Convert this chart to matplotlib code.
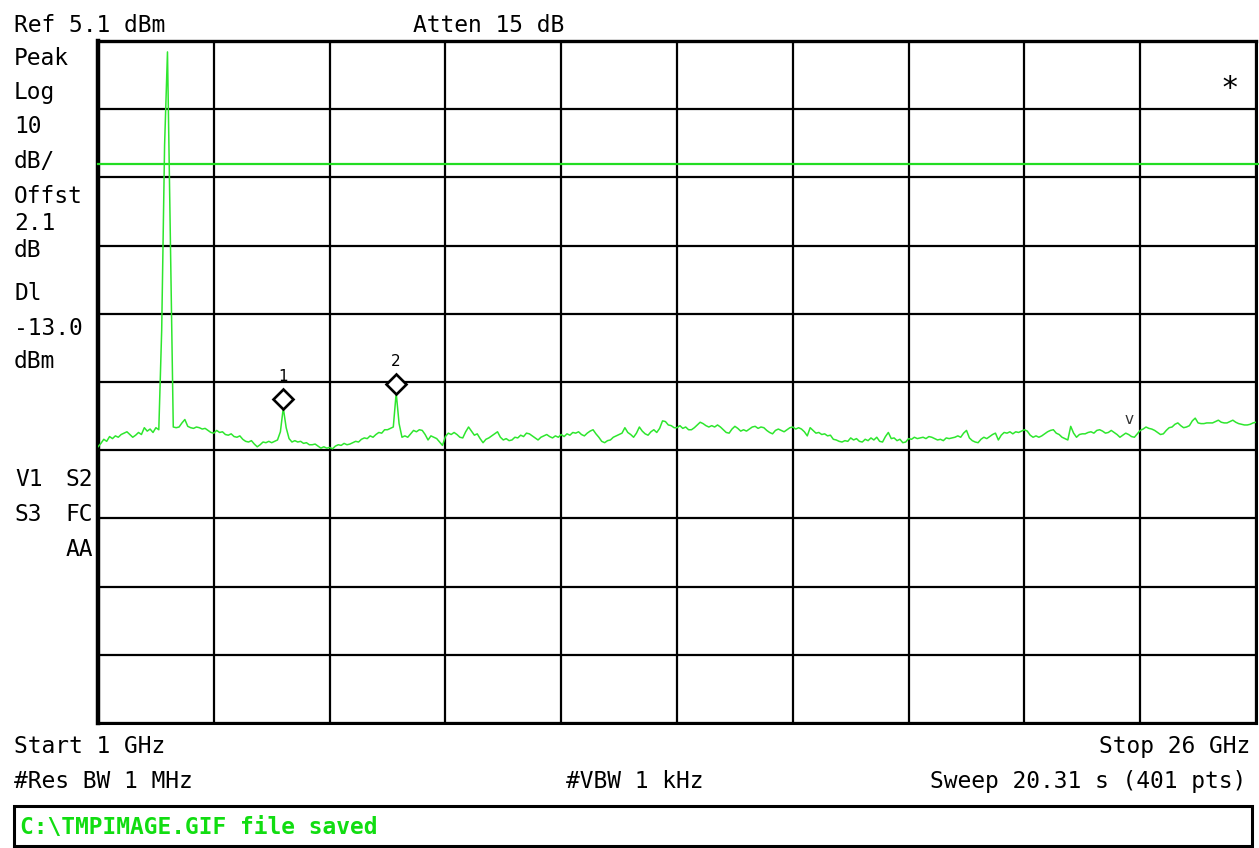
import numpy as np
import matplotlib
matplotlib.use("Agg")
import matplotlib.pyplot as plt
from matplotlib.patches import Rectangle
from matplotlib.transforms import offset_copy

W, H = 1259, 848

# analyzer settings
START_GHZ = 1.0
STOP_GHZ = 26.0
N_PTS = 401
REF_DBM = 5.1
DB_PER_DIV = 10
N_DIV = 10
DISPLAY_LINE_DBM = -13.0

# trace, dBm per sweep point
trace_dbm = [
    -54.4, -53.9, -53.3, -53.6, -52.9, -53.2, -52.8, -53.0, -52.6, -52.4, -52.2, -52.6, -53.0, -52.7, -52.3, -52.6, -51.6, -52.1, -51.8, -52.3,
    -51.6, -51.9, -37.3, -10.2, 3.5, -23.9, -51.5, -51.6, -51.5, -50.9, -50.4, -51.4, -51.6, -51.7, -51.5, -51.6, -51.8, -51.7, -52.0, -52.3,
    -52.4, -52.0, -52.3, -52.2, -52.6, -52.7, -52.5, -52.9, -53.0, -52.8, -53.3, -53.6, -53.7, -53.5, -54.0, -54.4, -54.1, -53.7, -53.8, -53.6,
    -53.8, -53.6, -53.4, -52.2, -48.7, -51.6, -53.2, -53.7, -53.5, -53.7, -53.6, -53.9, -53.8, -54.1, -54.1, -54.0, -54.3, -54.6, -54.4, -54.6,
    -54.5, -54.7, -54.3, -54.1, -54.2, -53.9, -54.1, -54.0, -53.8, -53.6, -53.7, -53.3, -53.1, -53.2, -52.8, -53.0, -52.6, -52.3, -52.4, -51.9,
    -51.9, -51.7, -51.5, -46.5, -51.0, -53.0, -52.8, -53.0, -52.5, -52.0, -52.2, -51.9, -52.0, -52.6, -53.4, -52.8, -53.0, -53.2, -53.7, -54.2,
    -52.9, -52.4, -52.6, -52.3, -52.6, -53.0, -53.1, -52.2, -51.5, -52.1, -52.7, -52.5, -53.2, -53.8, -53.3, -53.1, -52.8, -52.5, -52.2, -53.0,
    -53.4, -53.2, -53.5, -53.4, -53.0, -53.1, -52.7, -52.9, -52.4, -52.5, -52.8, -53.1, -53.4, -53.0, -52.8, -52.6, -52.9, -53.1, -52.8, -53.0,
    -52.6, -52.9, -52.5, -52.7, -52.3, -52.4, -52.2, -52.6, -52.8, -52.4, -52.1, -51.9, -52.5, -53.0, -53.6, -53.8, -53.5, -53.4, -53.0, -52.8,
    -52.6, -52.4, -51.6, -52.3, -52.6, -53.0, -52.4, -51.5, -52.1, -52.5, -52.7, -52.2, -51.9, -52.3, -51.7, -50.6, -50.7, -51.2, -51.3, -51.6,
    -51.6, -51.3, -51.7, -51.5, -51.9, -51.9, -51.6, -51.2, -50.8, -51.0, -51.3, -51.5, -51.3, -51.5, -51.2, -51.5, -51.9, -52.3, -52.4, -51.8,
    -51.4, -51.7, -52.1, -51.9, -52.1, -51.8, -51.5, -51.4, -51.7, -51.5, -51.6, -52.0, -52.3, -52.5, -52.0, -51.8, -52.0, -52.2, -51.9, -51.6,
    -51.5, -51.8, -51.6, -51.8, -52.2, -52.8, -51.6, -52.0, -52.4, -52.3, -52.6, -52.5, -52.8, -52.7, -53.3, -53.4, -53.6, -53.7, -53.5, -53.6,
    -53.1, -53.4, -53.2, -53.6, -53.7, -53.3, -53.5, -53.1, -53.4, -53.0, -53.6, -53.7, -52.9, -52.3, -53.2, -53.1, -53.5, -53.3, -53.8, -53.7,
    -53.2, -53.3, -53.0, -53.2, -53.1, -53.0, -53.2, -52.9, -53.0, -53.2, -53.4, -53.3, -53.5, -53.1, -53.2, -53.1, -53.0, -52.8, -53.0, -52.4,
    -52.0, -53.1, -53.5, -53.7, -53.8, -53.3, -53.0, -53.2, -52.9, -52.6, -52.4, -53.4, -52.7, -52.3, -52.4, -52.2, -52.5, -52.2, -52.3, -52.1,
    -51.9, -52.1, -52.7, -53.0, -52.8, -53.0, -52.8, -52.5, -52.2, -52.0, -51.9, -52.4, -52.6, -53.0, -53.2, -53.4, -51.4, -52.4, -53.0, -52.6,
    -52.5, -52.5, -52.3, -52.2, -52.4, -52.0, -51.9, -52.1, -52.4, -52.3, -52.0, -52.3, -52.6, -53.0, -52.7, -52.4, -52.6, -52.9, -53.0, -52.5,
    -52.0, -51.8, -51.5, -51.7, -51.8, -52.0, -52.3, -52.6, -52.5, -52.0, -51.6, -51.5, -51.1, -50.9, -51.3, -51.6, -51.5, -51.3, -50.6, -50.2,
    -50.9, -51.0, -51.0, -50.9, -50.9, -50.9, -50.7, -50.5, -50.8, -50.9, -50.9, -50.7, -50.5, -50.8, -51.0, -51.1, -51.2, -51.2, -51.1, -50.9,
    -50.8,
]

marker_idx = [64, 103]
marker_labels = ["1", "2"]
caret_idx = 356

left_text = [("Peak", 65), ("Log", 99), ("10", 133), ("dB/", 168),
             ("Offst", 203), ("2.1", 230), ("dB", 257),
             ("Dl", 300), ("-13.0", 335), ("dBm", 368)]

TRACE = "#2ee62e"
LINE = "#22dd22"
MONO = "DejaVu Sans Mono"
FS = 16.5

freqs = np.linspace(START_GHZ, STOP_GHZ, N_PTS)
trace = np.array(trace_dbm)
bottom_dbm = REF_DBM - N_DIV * DB_PER_DIV

fig = plt.figure(figsize=(W / 100, H / 100), dpi=100)
fig.patch.set_facecolor("white")
ax = fig.add_axes([98 / W, (H - 723) / H, 1158 / W, 682 / H])
ax.set_xlim(START_GHZ, STOP_GHZ)
ax.set_ylim(bottom_dbm, REF_DBM)
ax.set_xticks(np.linspace(START_GHZ, STOP_GHZ, N_DIV + 1))
ax.set_yticks(np.linspace(bottom_dbm, REF_DBM, N_DIV + 1))
ax.tick_params(length=0, labelbottom=False, labelleft=False)
ax.grid(True, color="black", lw=1.6)
ax.set_axisbelow(True)
for s, lw in [("left", 3.2), ("top", 2.4), ("right", 2.2), ("bottom", 2.2)]:
    ax.spines[s].set_linewidth(lw)
    ax.spines[s].set_color("black")

# display line, runs a little past the right border
ax.axhline(DISPLAY_LINE_DBM, xmin=0, xmax=1.003, color=LINE, lw=1.6,
           clip_on=False, zorder=3)

ax.plot(freqs, trace, color=TRACE, lw=1.1, zorder=4)

# markers sit just above their peaks
diam_tr = offset_copy(ax.transData, fig=fig, x=0, y=9, units="dots")
lab_tr = offset_copy(ax.transData, fig=fig, x=0, y=31, units="dots")
for i, lab in zip(marker_idx, marker_labels):
    ax.plot(freqs[i], trace[i], marker="D", ms=10, mfc="white", mec="black",
            mew=1.9, transform=diam_tr, zorder=5)
    ax.text(freqs[i], trace[i], lab, transform=lab_tr, ha="center",
            va="center", fontsize=11, color="black", zorder=5)

caret_tr = offset_copy(ax.transData, fig=fig, x=0, y=15, units="dots")
ax.text(freqs[caret_idx], trace[caret_idx], "v", transform=caret_tr,
        ha="center", va="center", fontsize=11, color="#333333")

ax.text(0.9775, 0.93, "*", transform=ax.transAxes, ha="center", va="center",
        fontsize=22, family=MONO, color="black")


def ftext(x, y, s, ha="left", **kw):
    fig.text(x / W, 1 - y / H, s, ha=ha, va="baseline", family=MONO,
             fontsize=FS, color="black", **kw)


ftext(14, 32, "Ref 5.1 dBm")
ftext(413, 32, "Atten 15 dB")
for s, yb in left_text:
    ftext(14, yb, s)
ftext(15, 486, "V1")
ftext(93, 486, "S2", ha="right")
ftext(15, 521, "S3")
ftext(93, 521, "FC", ha="right")
ftext(93, 556, "AA", ha="right")

ftext(14, 753, "Start 1 GHz")
ftext(1250, 753, "Stop 26 GHz", ha="right")
ftext(14, 788, "#Res BW 1 MHz")
ftext(566, 788, "#VBW 1 kHz")
ftext(1246, 788, "Sweep 20.31 s (401 pts)", ha="right")

# status line box
fig.patches.append(Rectangle((14 / W, 1 - 846 / H), 1238 / W, 40 / H,
                             transform=fig.transFigure, fill=False,
                             ec="black", lw=2.2))
fig.text(20 / W, 1 - 834 / H, r"C:\TMPIMAGE.GIF file saved", ha="left",
         va="baseline", family=MONO, fontsize=FS, fontweight="bold",
         color="#11dd11")

fig.savefig("out.png", dpi=100, facecolor="white")
